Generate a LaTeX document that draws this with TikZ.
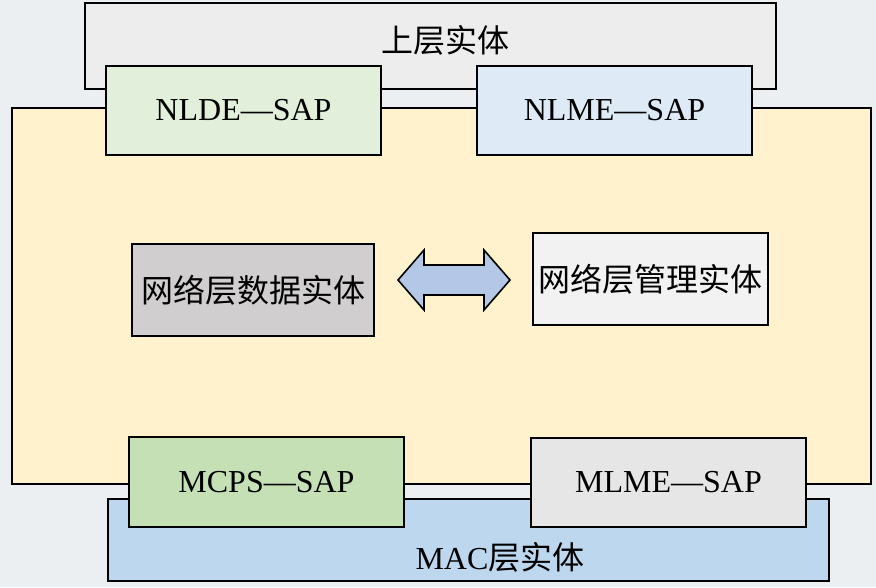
\documentclass[tikz,border=0pt]{standalone}
\usepackage{fontspec}
\setmainfont{Liberation Serif}
\newfontfamily\cjk{Noto Sans CJK SC}
\definecolor{bgc}{HTML}{ECEFF2}
\definecolor{upc}{HTML}{EDEDED}
\definecolor{nwc}{HTML}{FFF2CC}
\definecolor{nldec}{HTML}{E2EFDA}
\definecolor{nlmec}{HTML}{DEEBF7}
\definecolor{dataec}{HTML}{D0CECE}
\definecolor{mgmtc}{HTML}{F2F2F2}
\definecolor{arrc}{HTML}{B4C7E7}
\definecolor{mcpsc}{HTML}{C5E0B4}
\definecolor{mlmec}{HTML}{E7E6E6}
\definecolor{macc}{HTML}{BDD7EE}
\tikzset{
  box/.style={draw=black, line width=2.2pt, rectangle, inner sep=0pt, outer sep=0pt},
  lat/.style={font=\fontsize{32}{37}\selectfont, inner sep=0pt},
  zh/.style={font=\fontsize{32}{37}\selectfont\cjk, inner sep=0pt},
}
\begin{document}
\begin{tikzpicture}[x=1pt,y=-1pt]
\path[fill=bgc] (0,0) rectangle (876,587);
\useasboundingbox (0,0) rectangle (876,587);
% upper entity
\node[box, fill=upc, minimum width=691, minimum height=86] (up) at (430.5,46) {};
\node[zh] (uptext) at (445,40) {上层实体};
% MAC entity
\node[box, fill=macc, minimum width=721, minimum height=82] (mac) at (468.5,540) {};
\node[lat] (mactext) at (500,557) {MAC{\cjk 层实体}};
% network layer
\node[box, fill=nwc, minimum width=859, minimum height=376] (nw) at (441.5,296) {};
% SAPs
\node[box, fill=nldec, minimum width=275, minimum height=89, lat] (nlde) at (243.5,110.5) {NLDE—SAP};
\node[box, fill=nlmec, minimum width=275, minimum height=89, lat] (nlme) at (614.5,110.5) {NLME—SAP};
\node[box, fill=mcpsc, minimum width=275, minimum height=90, lat] (mcps) at (266.5,482) {MCPS—SAP};
\node[box, fill=mlmec, minimum width=275, minimum height=89, lat] (mlme) at (668.5,482.5) {MLME—SAP};
% entities
\node[box, fill=dataec, minimum width=242, minimum height=92, zh] (data) at (253,290) {网络层数据实体};
\node[box, fill=mgmtc, minimum width=235, minimum height=92, zh] (mgmt) at (650.5,279) {网络层管理实体};
% double arrow
\coordinate (al) at (398,280);
\coordinate (ar) at (510,280);
\draw[fill=arrc, line width=1.6pt, line join=miter] (al) -- (424,250) -- (424,265) -- (484,265) -- (484,250) -- (ar) -- (484,310) -- (484,295) -- (424,295) -- (424,310) -- cycle;
\end{tikzpicture}
\end{document}
